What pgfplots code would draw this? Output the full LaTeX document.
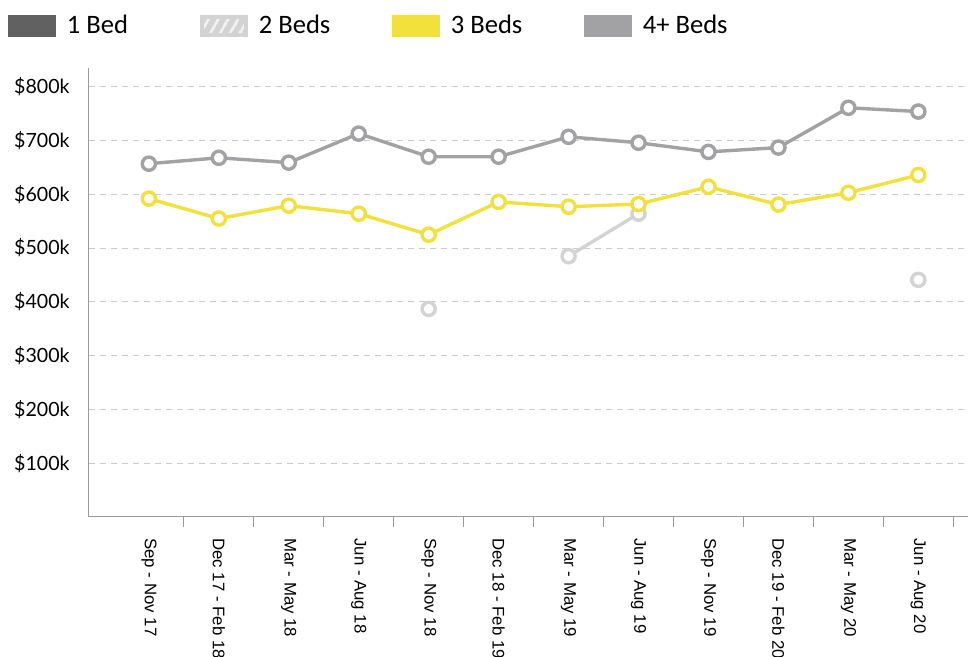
\documentclass[border=0pt]{standalone}
\usepackage{pgfplots}
\pgfplotsset{compat=1.18}
\usepackage{fontspec}
\setmainfont{Lato}
\newfontfamily\legfont{Carlito}
\newfontfamily\xfont{Liberation Sans}
\usetikzlibrary{patterns.meta}
\definecolor{bedone}{HTML}{616161}
\definecolor{bedtwo}{HTML}{D3D3D3}
\definecolor{bedthree}{HTML}{F2E03B}
\definecolor{bedfour}{HTML}{A2A2A5}
\definecolor{gridc}{HTML}{CBCBCB}
\definecolor{axisc}{HTML}{9A9A9A}
\begin{document}
\begin{tikzpicture}
\begin{axis}[
  at={(0,0)}, anchor=south west,
  scale only axis, width=439.5pt, height=224.5pt,
  xmin=-0.856, xmax=11.71, ymin=0, ymax=835000,
  axis x line*=bottom, axis y line*=left,
  axis line style={axisc, line width=0.5pt},
  scaled y ticks=false,
  ytick={100000,200000,300000,400000,500000,600000,700000,800000},
  yticklabels={\$100k,\$200k,\$300k,\$400k,\$500k,\$600k,\$700k,\$800k},
  ymajorgrids,
  grid style={gridc, dash pattern=on 3pt off 2.5pt, line width=0.5pt},
  major tick length=0pt,
  yticklabel style={font=\fontsize{9.8}{12}\selectfont, anchor=east, inner sep=0pt, xshift=-9.5pt},
  xtick={0,1,2,3,4,5,6,7,8,9,10,11},
  xticklabels={Sep - Nov 17,Dec 17 - Feb 18,Mar - May 18,Jun - Aug 18,Sep - Nov 18,Dec 18 - Feb 19,Mar - May 19,Jun - Aug 19,Sep - Nov 19,Dec 19 - Feb 20,Mar - May 20,Jun - Aug 20},
  xticklabel style={font=\xfont\fontsize{8.4}{10}\selectfont, rotate=-90, anchor=west, inner sep=0pt, xshift=10.5pt},
  extra x ticks={0.5,1.5,2.5,3.5,4.5,5.5,6.5,7.5,8.5,9.5,10.5,11.5},
  extra x tick labels={},
  extra x tick style={major tick length=5pt, tick align=outside, tick style={axisc, line width=0.5pt}},
  unbounded coords=jump,
  every axis plot/.append style={line width=1.7pt, mark=*, mark size=3.3pt, mark options={solid, fill=white}},
  legend columns=4,
  legend style={at={(axis description cs:0,1)}, anchor=west, xshift=-40.5pt, yshift=21pt,
    draw=none, fill=none, inner sep=0pt, nodes={inner sep=0pt},
    font=\legfont\fontsize{13.3}{15}\selectfont,
    /tikz/every odd column/.append style={column sep=5.5pt}},
]
\addlegendimage{legend image code/.code={\fill[bedone] (0pt,-4.5pt) rectangle (22pt,4.5pt);}}
\addlegendentry{\makebox[66.8pt][l]{1 Bed}}
\addplot[color=bedtwo, legend image code/.code={\fill[bedtwo] (0pt,-4.5pt) rectangle (22pt,4.5pt);
   \fill[pattern={Lines[angle=60, distance=4pt, line width=1.4pt]}, pattern color=white!70!bedtwo] (0pt,-4.5pt) rectangle (22pt,4.5pt);}]
  coordinates {(4,387000) (5,nan) (6,485000) (7,564000) (8,nan) (11,441000)};
\addlegendentry{\makebox[66.8pt][l]{2 Beds}}
\addplot[color=bedthree, legend image code/.code={\fill[bedthree] (0pt,-4.5pt) rectangle (22pt,4.5pt);}]
  coordinates {(0,592000) (1,555000) (2,579000) (3,564000) (4,525000) (5,586000) (6,577000) (7,582000) (8,614000) (9,581000) (10,603000) (11,636000)};
\addlegendentry{\makebox[66.8pt][l]{3 Beds}}
\addplot[color=bedfour, legend image code/.code={\fill[bedfour] (0pt,-4.5pt) rectangle (22pt,4.5pt);}]
  coordinates {(0,657000) (1,668000) (2,659000) (3,713000) (4,670000) (5,670000) (6,707000) (7,696000) (8,679000) (9,687000) (10,761000) (11,754000)};
\addlegendentry{\makebox[66.8pt][l]{4+ Beds}}
\end{axis}
\pgfresetboundingbox
\useasboundingbox (-44.5pt,-70pt) rectangle (439.5pt,258.5pt);
\end{tikzpicture}
\end{document}
